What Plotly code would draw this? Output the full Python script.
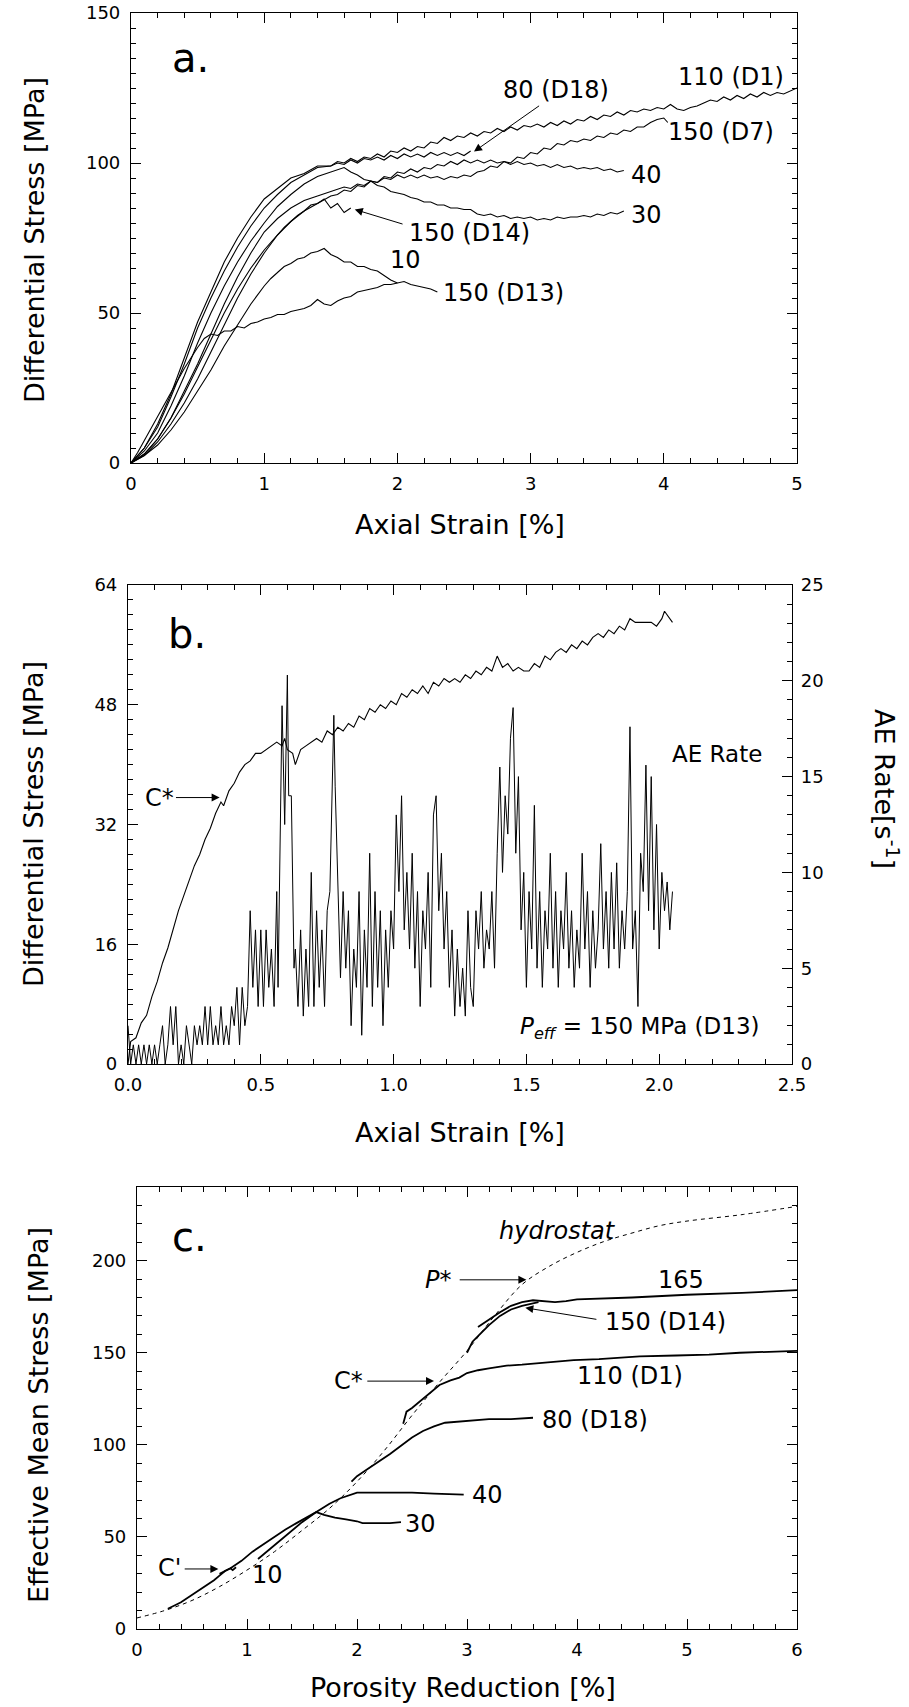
import plotly.graph_objects as go

W, H = 909, 1707
FONT = "DejaVu Sans"

# ---------------- Panel a: differential stress vs axial strain ----------------
A_110_D1 = [(0,0),(0.1,5),(0.2,13),(0.3,23),(0.4,35),(0.5,47),(0.6,57),(0.7,67),(0.8,75),(0.9,82),(1.0,88),(1.1,91.5),(1.2,95),(1.3,96.5),(1.4,99),(1.5,99),
    (1.55,100.5),(1.6,100),(1.65,101.5),(1.7,100.5),(1.75,102),(1.8,101.5),(1.85,103),(1.9,102),(1.95,104),(2.0,103.5),
    (2.05,105),(2.1,104),(2.15,105.5),(2.2,105),(2.25,107),(2.3,106.5),(2.35,108.5),(2.4,107.5),(2.45,109),(2.5,108.5),
    (2.55,110),(2.6,109),(2.65,110.5),(2.7,110),(2.75,111.5),(2.8,110.5),(2.85,112),(2.9,111),(2.95,112.5),(3.0,112),
    (3.05,113),(3.1,112),(3.15,113.5),(3.2,112.5),(3.25,114),(3.3,113),(3.35,114.5),(3.4,114),(3.45,115.5),(3.5,114.5),
    (3.55,116),(3.6,115.5),(3.65,117),(3.7,116),(3.75,117.5),(3.8,117),(3.85,118),(3.9,117.5),(3.95,118.5),(4.0,118),
    (4.05,119.5),(4.1,118),(4.15,117.5),(4.2,118.5),(4.25,119),(4.3,120),(4.35,121),(4.4,120.5),(4.45,122),(4.5,121),
    (4.55,122.5),(4.6,121.5),(4.65,123),(4.7,122),(4.75,123.5),(4.8,122.5),(4.85,123.5),(4.9,123),(4.95,124),(5.0,125)]
A_80_D18 = [(0,0),(0.1,5),(0.2,12),(0.3,22),(0.4,33),(0.5,45),(0.6,55),(0.7,64),(0.8,72),(0.9,79),(1.0,85),(1.1,89.5),(1.2,93.5),(1.3,96),(1.4,98.5),(1.5,99),
    (1.55,100),(1.6,99.5),(1.65,101),(1.7,100),(1.75,101.5),(1.8,101),(1.85,102),(1.9,101),(1.95,102.5),(2.0,101.5),
    (2.05,103),(2.1,102),(2.15,103),(2.2,102),(2.25,103.5),(2.3,102.5),(2.35,103.5),(2.4,102.5),(2.45,103.5),(2.5,102.5),(2.55,104)]
A_30 = [(0,0),(0.1,4),(0.2,10),(0.3,19),(0.4,29),(0.5,40),(0.6,50),(0.7,59),(0.8,67),(0.9,74),(1.0,80),(1.1,85.5),(1.2,89.5),(1.3,93),(1.4,95.5),(1.5,97),
    (1.55,98),(1.6,98.5),(1.65,97),(1.7,96),(1.75,94.5),(1.8,94),(1.85,92.5),(1.9,92),(1.95,90.5),(2.0,90),
    (2.05,89.5),(2.1,88.5),(2.15,88),(2.2,87),(2.25,87),(2.3,86),(2.35,86),(2.4,85),(2.45,85),(2.5,84.5),
    (2.55,84.5),(2.6,83),(2.65,82.5),(2.7,83),(2.75,82),(2.8,82.5),(2.85,81.5),(2.9,82),(2.95,81.5),(3.0,82),
    (3.05,81),(3.1,81.5),(3.15,81),(3.2,82),(3.25,81.5),(3.3,82),(3.35,82),(3.4,82.5),(3.45,82),(3.5,83),
    (3.55,82.5),(3.6,83.5),(3.65,83),(3.7,84)]
A_40 = [(0,0),(0.1,3),(0.2,8),(0.3,15),(0.4,23),(0.5,32),(0.6,41),(0.7,50),(0.8,58),(0.9,65),(1.0,71),(1.1,76),(1.2,80.5),(1.3,84),(1.4,86.5),(1.5,89),
    (1.55,89.5),(1.6,91),(1.65,90.5),(1.7,92.5),(1.75,92),(1.8,94),(1.85,93.5),(1.9,95.5),(1.95,95),(2.0,97),
    (2.05,96.5),(2.1,98),(2.15,97),(2.2,98.5),(2.25,98),(2.3,99.5),(2.35,99),(2.4,100.5),(2.45,99.5),(2.5,101),
    (2.55,100),(2.6,101),(2.65,100),(2.7,101),(2.75,100),(2.8,100.5),(2.85,99.5),(2.9,100.5),(2.95,99.5),(3.0,100),
    (3.05,99),(3.1,99.5),(3.15,98.5),(3.2,99.5),(3.25,98.5),(3.3,99),(3.35,98),(3.4,98.5),(3.45,98),(3.5,98.5),
    (3.55,97.5),(3.6,98),(3.65,97),(3.7,97.5)]
A_150_D7 = [(0,0),(0.1,3),(0.2,8),(0.3,15),(0.4,24),(0.5,33),(0.6,43),(0.7,53),(0.8,62),(0.9,70),(1.0,77),(1.1,81.5),(1.2,85),(1.3,87.5),(1.4,89),(1.5,90.5),
    (1.55,91),(1.6,92),(1.65,91.5),(1.7,93),(1.75,92.5),(1.8,94),(1.85,93.5),(1.9,95),(1.95,94.5),(2.0,96),
    (2.05,95),(2.1,96),(2.15,95),(2.2,96),(2.25,95),(2.3,95.5),(2.35,94.5),(2.4,95.5),(2.45,95),(2.5,96),
    (2.55,95.5),(2.6,97),(2.65,97.5),(2.7,99),(2.75,98.5),(2.8,100.5),(2.85,100),(2.9,102),(2.95,101.5),(3.0,103.5),
    (3.05,103),(3.1,105),(3.15,104.5),(3.2,106.5),(3.25,106),(3.3,107.5),(3.35,107),(3.4,108),(3.45,107.5),(3.5,109),
    (3.55,108.5),(3.6,110),(3.65,109.5),(3.7,111),(3.75,110.5),(3.8,112),(3.85,112),(3.9,113.5),(3.95,114.5),(4.0,115),(4.03,113.5)]
A_150_D14 = [(0,0),(0.1,2.5),(0.2,7),(0.3,13),(0.4,20),(0.5,28),(0.6,37),(0.7,46),(0.8,55),(0.9,63),(1.0,70),(1.05,73),(1.1,76),(1.15,78.5),
    (1.2,80.5),(1.25,82.5),(1.3,84),(1.35,86),(1.4,86.5),(1.45,88),(1.5,85),(1.55,86.5),(1.6,83.5),(1.65,85)]
A_10 = [(0,0),(0.1,2.5),(0.2,6),(0.3,11),(0.4,17),(0.5,24),(0.6,31),(0.7,39),(0.8,46),(0.9,53),(1.0,59),(1.05,61.5),(1.1,63.5),(1.15,65.5),
    (1.2,66.5),(1.25,68),(1.3,68.5),(1.35,70),(1.4,70.5),(1.45,71.5),(1.5,69.5),(1.55,68.5),(1.6,67),(1.65,67),(1.7,65.5),
    (1.75,65.5),(1.8,64.5),(1.85,64),(1.9,62.5),(1.95,61),(2.0,60)]
A_150_D13 = [(0,0),(0.05,3.5),(0.1,7.5),(0.15,11.5),(0.2,15.5),(0.25,19.5),(0.3,24),(0.35,28),(0.4,31.5),(0.45,35),(0.5,38.5),(0.55,41.5),
    (0.6,43),(0.65,42.5),(0.7,44),(0.75,44),(0.8,45.5),(0.85,45),(0.9,46.5),(0.95,47),(1.0,48),(1.05,48.5),(1.1,49.5),(1.15,49.5),
    (1.2,50.5),(1.25,51),(1.3,51.5),(1.35,52.5),(1.4,54.5),(1.45,53),(1.5,52.5),(1.55,54),(1.6,55),(1.65,55.5),(1.7,57),(1.75,57.5),
    (1.8,58),(1.85,58.5),(1.9,59.5),(1.95,59.5),(2.0,60),(2.05,60.5),(2.1,59.5),(2.15,59),(2.2,58.5),(2.25,58),(2.3,57)]
PANEL_A = [A_110_D1, A_80_D18, A_30, A_40, A_150_D7, A_150_D14, A_10, A_150_D13]

# ---------------- Panel b: D13 stress and AE rate ----------------
B_STRESS = [(0,0),(0.01,3),(0.03,3.5),(0.05,5.5),(0.07,6.5),(0.09,9),(0.11,11),(0.13,13.5),(0.15,15.5),(0.17,18),(0.19,20.5),
    (0.21,22.5),(0.23,24.5),(0.25,26.5),(0.27,28),(0.29,30),(0.31,31.5),(0.33,33.5),(0.35,35),(0.36,34.5),(0.38,36.5),(0.40,37.5),
    (0.42,39),(0.44,40),(0.46,40.5),(0.48,41.5),(0.50,41.5),(0.52,42),(0.54,42.5),(0.56,43),(0.58,42.5),(0.59,43.5),(0.60,42),
    (0.62,41.5),(0.63,40),(0.65,42),(0.67,42.5),(0.69,43),(0.71,43.5),(0.73,43),(0.75,44.5),(0.77,44),(0.79,45),(0.81,44.5),
    (0.83,45.5),(0.85,45),(0.87,46.5),(0.89,46),(0.91,47.5),(0.93,47),(0.95,48),(0.97,47.5),(0.99,48.5),(1.01,48),(1.03,49.5),
    (1.05,49),(1.07,50),(1.09,49.5),(1.11,50.5),(1.13,49.5),(1.15,51),(1.17,50.5),(1.19,51.5),(1.21,51),(1.23,51.5),(1.25,51),
    (1.27,52),(1.29,51.5),(1.31,52.5),(1.33,52),(1.35,53),(1.37,52.5),(1.39,54.5),(1.41,53),(1.43,53.5),(1.45,52.5),(1.47,53),
    (1.49,52.5),(1.51,52.5),(1.53,53.5),(1.55,53),(1.57,54.5),(1.59,54),(1.61,55),(1.63,55.5),(1.65,55),(1.67,56),(1.69,55.5),
    (1.71,56.5),(1.73,56),(1.75,57),(1.77,57.5),(1.79,57),(1.81,58),(1.83,57.5),(1.85,58.5),(1.87,58),(1.89,59.5),(1.91,59),
    (1.93,59),(1.95,59),(1.97,59),(1.99,58.5),(2.01,59.5),(2.02,60.5),(2.03,60),(2.05,59)]
B_AE_RATE = [(0.00,2),(0.01,0),(0.02,1),(0.03,0),(0.04,1),(0.05,0),(0.06,1),(0.07,0),(0.08,1),(0.09,0),
    (0.10,1),(0.11,0),(0.12,1),(0.13,2),(0.14,0),(0.15,1),(0.16,3),(0.17,1),(0.18,3),(0.19,0),
    (0.20,1),(0.21,0),(0.22,2),(0.23,1),(0.24,0),(0.25,2),(0.26,1),(0.27,2),(0.28,1),(0.29,3),
    (0.30,1),(0.31,3),(0.32,1),(0.33,2),(0.34,1),(0.35,3),(0.36,1),(0.37,2),(0.38,1),(0.39,3),
    (0.40,2),(0.41,4),(0.42,1),(0.43,4),(0.44,2),(0.45,3),(0.46,8),(0.47,4),(0.48,7),(0.49,3),
    (0.50,7),(0.51,3),(0.52,7),(0.53,4),(0.54,6),(0.55,3),(0.56,9),(0.565,4),(0.57,9),(0.575,13.5),
    (0.58,18.7),(0.59,12.5),(0.60,20.3),(0.605,14),(0.615,14),(0.625,5),(0.63,6),(0.64,3),(0.65,7),(0.66,2.5),
    (0.67,6),(0.68,3),(0.69,10),(0.70,3),(0.71,8),(0.72,4),(0.73,7),(0.74,3),(0.75,8),(0.76,9),
    (0.775,18.2),(0.78,14.5),(0.79,10),(0.80,4.5),(0.81,9),(0.82,5),(0.83,8),(0.84,2),(0.85,6),(0.86,4),
    (0.87,9),(0.88,1.5),(0.89,7),(0.90,4),(0.91,11),(0.92,3),(0.93,9),(0.94,4),(0.95,8),(0.96,2),
    (0.97,7),(0.98,4),(0.99,8),(1.00,6),(1.01,13),(1.02,9),(1.03,14),(1.04,7),(1.05,10),(1.06,6),
    (1.07,11),(1.08,5),(1.09,9),(1.10,3),(1.11,8),(1.12,6),(1.13,10),(1.14,4),(1.15,13),(1.16,14),
    (1.17,8),(1.18,11),(1.19,6),(1.20,9),(1.21,4),(1.22,7),(1.23,2.5),(1.24,6),(1.25,3),(1.26,5),
    (1.27,2.5),(1.28,8),(1.29,4),(1.30,3),(1.31,8),(1.32,6),(1.33,9),(1.34,5),(1.35,7),(1.36,6),
    (1.37,9),(1.38,5),(1.39,11),(1.40,15.5),(1.41,10),(1.42,14),(1.43,12),(1.44,17),(1.45,18.6),(1.46,11),
    (1.47,15),(1.48,7),(1.49,10),(1.50,4),(1.51,9),(1.52,6),(1.53,13.5),(1.54,5),(1.55,9),(1.56,4),
    (1.57,8),(1.58,6),(1.59,11),(1.60,5),(1.61,9),(1.62,4),(1.63,8),(1.64,6),(1.65,10),(1.66,5),
    (1.67,8),(1.68,4),(1.69,7),(1.70,5),(1.71,11),(1.72,6),(1.73,9),(1.74,4),(1.75,8),(1.76,5),
    (1.77,7),(1.78,11.5),(1.79,6),(1.80,9),(1.81,5),(1.82,10),(1.83,6),(1.84,10.5),(1.85,5),(1.86,8),
    (1.87,6),(1.88,9),(1.89,17.6),(1.90,6),(1.91,8),(1.92,3),(1.93,11),(1.94,9),(1.95,15.6),(1.96,8),
    (1.97,15),(1.98,7),(1.99,12.5),(2.00,6),(2.01,10),(2.02,8),(2.03,9.5),(2.04,7),(2.05,9)]

# ---------------- Panel c: effective mean stress vs porosity reduction ----------------
C_HYDROSTAT = [(0,6),(0.25,10),(0.5,15.5),(0.75,23),(1.0,32),(1.25,42),(1.5,53.5),(1.75,65.5),(2.0,80),(2.25,97),(2.5,116),
    (2.75,134),(3.0,151),(3.25,170),(3.5,187),(3.75,197),(4.0,204.5),(4.25,210.5),(4.5,215),(4.75,219),(5.0,221.5),(5.5,225),(6.0,229.5)]
C_10 = [(0.28,11),(0.3,11.5),(0.35,13),(0.4,14.5),(0.45,16.5),(0.5,18.5),(0.55,20.5),(0.6,22.5),(0.65,24.5),(0.7,26.5),(0.75,29),(0.8,31.5),(0.85,33),(0.87,32),(0.9,33.5)]
C_30 = [(0.75,30),(0.85,33),(0.95,37),(1.05,42),(1.15,46),(1.25,50),(1.35,54),(1.45,57.5),(1.55,61),(1.63,63.5),(1.7,62),(1.8,60.5),
    (1.9,59.5),(2.0,58.5),(2.05,57.5),(2.1,57.5),(2.2,57.5),(2.3,57.5),(2.4,58)]
C_40 = [(1.1,38),(1.2,43),(1.3,48),(1.4,53),(1.5,58),(1.63,63.5),(1.75,68),(1.85,71),(1.95,73),(2.0,74),(2.1,74),(2.3,74),(2.5,74),(2.7,73.5),(2.9,73),(2.97,73)]
C_80_D18 = [(1.95,80),(2.0,83),(2.1,87),(2.2,91),(2.3,95),(2.4,99.5),(2.5,104),(2.6,107.5),(2.7,110),(2.8,112),(3.0,113),(3.2,114),(3.4,114),(3.6,114.7)]
C_110_D1 = [(2.42,111.5),(2.45,118),(2.5,120),(2.6,125),(2.7,130),(2.75,132.5),(2.85,135),(2.93,136.5),(3.0,139),(3.1,140.5),(3.2,141.5),
    (3.36,143),(3.5,143.5),(3.6,144),(3.8,145),(3.97,146),(4.2,146.5),(4.57,148),(4.9,148.5),(5.2,149),(5.48,150),(5.8,150.5),(6.0,151)]
C_150_D14 = [(3.0,150),(3.05,156),(3.1,159),(3.2,165),(3.3,170),(3.4,173.5),(3.5,175.5),(3.6,177),(3.65,177.5)]
C_165 = [(3.1,164),(3.2,168),(3.3,172),(3.4,175.5),(3.5,177.5),(3.6,178.5),(3.7,178),(3.8,177.5),(3.9,178),(4.0,179),(4.5,180),
    (5.0,181.5),(5.5,182.5),(6.0,184)]
PANEL_C = [C_10, C_30, C_40, C_80_D18, C_110_D1, C_150_D14, C_165]


def xs(p):
    return [q[0] for q in p]


def ys(p):
    return [q[1] for q in p]


def px_x(v):
    return v / W


def px_y(v):
    return 1 - v / H


fig = go.Figure()
for c in PANEL_A:
    fig.add_trace(go.Scatter(x=xs(c), y=ys(c), mode="lines", xaxis="x", yaxis="y",
                             line=dict(color="black", width=1.1), showlegend=False, hoverinfo="skip"))
fig.add_trace(go.Scatter(x=xs(B_STRESS), y=ys(B_STRESS), mode="lines", xaxis="x2", yaxis="y2",
                         line=dict(color="black", width=1.1), showlegend=False, hoverinfo="skip"))
fig.add_trace(go.Scatter(x=xs(B_AE_RATE), y=ys(B_AE_RATE), mode="lines", xaxis="x2", yaxis="y3",
                         line=dict(color="black", width=1.0), showlegend=False, hoverinfo="skip"))
fig.add_trace(go.Scatter(x=xs(C_HYDROSTAT), y=ys(C_HYDROSTAT), mode="lines", xaxis="x3", yaxis="y4",
                         line=dict(color="black", width=1.0, dash="4px,4px", shape="spline"), showlegend=False, hoverinfo="skip"))
for c in PANEL_C:
    fig.add_trace(go.Scatter(x=xs(c), y=ys(c), mode="lines", xaxis="x3", yaxis="y4",
                             line=dict(color="black", width=1.8), showlegend=False, hoverinfo="skip"))


def axis(minor_dtick, standoff, **kw):
    d = dict(showline=True, linecolor="black", linewidth=1.2, ticks="inside", ticklen=10, tickwidth=1.2,
             tickcolor="black", showgrid=False, zeroline=False, ticklabelstandoff=standoff,
             tickfont=dict(family=FONT, size=18, color="black"),
             minor=dict(dtick=minor_dtick, ticks="inside", ticklen=5, tickwidth=1, tickcolor="black", showgrid=False))
    d.update(kw)
    return d


fig.update_layout(
    width=W, height=H, margin=dict(l=0, r=0, t=0, b=0, autoexpand=False),
    paper_bgcolor="white", plot_bgcolor="white", showlegend=False,
    font=dict(family=FONT, color="black"),
    xaxis=axis(0.2, 4, domain=[px_x(131), px_x(797)], range=[0, 5], dtick=1, anchor="y", mirror="ticks"),
    yaxis=axis(5, 6, domain=[px_y(463), px_y(13)], range=[0, 150], dtick=50, anchor="x", mirror="ticks"),
    xaxis2=axis(0.1, 4, domain=[px_x(128), px_x(792)], range=[0, 2.5], dtick=0.5, tickformat=".1f", anchor="y2", mirror="ticks"),
    yaxis2=axis(2, 6, domain=[px_y(1064), px_y(585)], range=[0, 64], dtick=16, anchor="x2"),
    yaxis3=axis(1, 4, range=[0, 25], dtick=5, anchor="x2", overlaying="y2", side="right"),
    xaxis3=axis(0.2, 4, domain=[px_x(137), px_x(797)], range=[0, 6], dtick=1, anchor="y4", mirror="ticks"),
    yaxis4=axis(10, 6, domain=[px_y(1629), px_y(1187)], range=[0, 240], dtick=50, anchor="x3", mirror="ticks"),
)

ann = []
LBL = 24


def text(x, y, s, xref, yref, size=LBL, xanchor="left", **kw):
    ann.append(dict(x=x, y=y, text=s, xref=xref, yref=yref, showarrow=False, xanchor=xanchor, yanchor="middle",
                    font=dict(family=FONT, size=size, color="black"), **kw))


def arrow(x0, y0, x1, y1, xref, yref):
    ann.append(dict(x=x1, y=y1, ax=x0, ay=y0, xref=xref, yref=yref, axref=xref, ayref=yref, text="",
                    showarrow=True, arrowhead=2, arrowsize=1.6, arrowwidth=1, arrowcolor="black"))


def ptext(xp, yp, s, size=27, angle=0):
    ann.append(dict(x=px_x(xp), y=px_y(yp), text=s, xref="paper", yref="paper", showarrow=False,
                    xanchor="center", yanchor="middle", textangle=angle,
                    font=dict(family=FONT, size=size, color="black")))


# panel a labels
text(0.29, 135, "a.", "x", "y", size=40)
text(2.78, 124.2, "80 (D18)", "x", "y")
text(4.09, 128.5, "110 (D1)", "x", "y")
text(4.02, 110.2, "150 (D7)", "x", "y")
text(3.74, 96, "40", "x", "y")
text(3.74, 82.5, "30", "x", "y")
text(2.07, 76.8, "150 (D14)", "x", "y")
text(1.93, 67.5, "10", "x", "y")
text(2.33, 56.7, "150 (D13)", "x", "y")
arrow(3.075, 119.4, 2.575, 103.8, "x", "y")
arrow(2.05, 79.5, 1.68, 84.5, "x", "y")

# panel b labels
text(0.144, 57.5, "b.", "x2", "y2", size=40)
text(0.056, 35.6, "C*", "x2", "y2")
arrow(0.175, 35.6, 0.345, 35.6, "x2", "y2")
text(2.04, 16.2, "AE Rate", "x2", "y3", size=23)
text(1.47, 1.9, "<i>P</i><sub><i>eff</i></sub> = 150 MPa (D13)", "x2", "y3", size=23)

# panel c labels
text(0.30, 213, "c.", "x3", "y4", size=40)
text(3.27, 216, "<i>hydrostat</i>", "x3", "y4")
text(2.6, 189.6, "<i>P</i>*", "x3", "y4")
arrow(2.92, 189.6, 3.54, 189.6, "x3", "y4")
text(4.72, 189.6, "165", "x3", "y4")
text(4.24, 166.8, "150 (D14)", "x3", "y4")
arrow(4.19, 168, 3.53, 174.4, "x3", "y4")
text(3.98, 137.4, "110 (D1)", "x3", "y4")
text(3.66, 113.7, "80 (D18)", "x3", "y4")
text(3.03, 73, "40", "x3", "y4")
text(2.42, 56.9, "30", "x3", "y4")
text(1.03, 29.4, "10", "x3", "y4")
text(0.17, 33.2, "C'", "x3", "y4")
arrow(0.42, 32.6, 0.74, 32.6, "x3", "y4")
text(1.77, 134.6, "C*", "x3", "y4")
arrow(2.08, 134.6, 2.7, 134.6, "x3", "y4")

# axis titles
ptext(35, 240, "Differential Stress [MPa]", angle=-90)
ptext(460, 524, "Axial Strain [%]")
ptext(33, 824, "Differential Stress [MPa]", angle=-90)
ptext(460, 1132, "Axial Strain [%]")
ptext(887, 789, "AE Rate[s<sup>-1</sup>]", angle=90)
ptext(38, 1415, "Effective Mean Stress [MPa]", angle=-90)
ptext(463, 1687, "Porosity Reduction [%]")

fig.update_layout(annotations=ann)
fig.write_html("out.html", config={"responsive": False, "displayModeBar": False},
               post_script="document.body.style.margin='0px';document.body.style.overflow='hidden';")
